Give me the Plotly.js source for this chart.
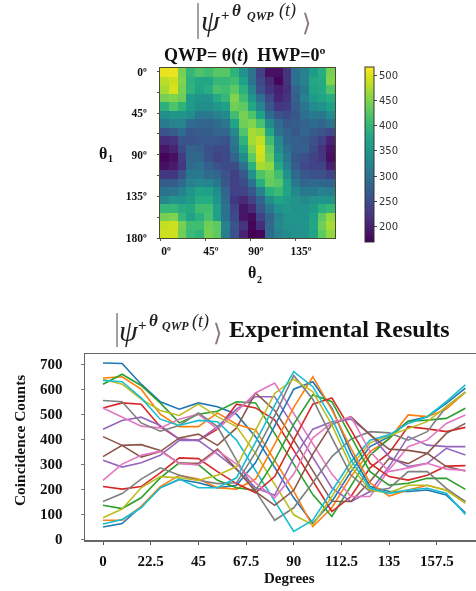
<!DOCTYPE html>
<html><head><meta charset="utf-8">
<script src="https://cdn.plot.ly/plotly-3.0.1.min.js"></script>
<style>html,body{margin:0;padding:0;background:#fff}#c{width:476px;height:591px;filter:blur(0.45px)}</style>
</head><body><div id="c"></div>
<script>
const heatRows = [
[505,505,445,400,420,410,425,425,395,345,300,235,185,185,220,300,320,360,385,445],
[480,490,450,390,375,375,400,400,410,365,300,245,210,175,220,300,320,375,380,450],
[470,495,445,395,370,385,415,410,430,390,325,255,220,200,215,280,310,370,380,420],
[445,450,440,360,345,345,380,400,450,410,350,295,245,205,220,275,320,360,370,385],
[390,420,395,360,340,340,350,365,440,430,375,325,265,225,230,270,305,335,345,365],
[340,350,350,340,310,310,320,335,410,445,420,365,290,260,250,265,295,310,310,335],
[310,320,325,290,285,280,290,305,370,440,450,415,340,290,265,270,280,290,285,300],
[260,270,290,265,270,270,280,285,330,420,470,460,375,300,280,265,280,270,260,245],
[215,220,260,260,265,265,265,260,310,395,470,485,410,330,285,275,270,255,235,205],
[190,205,250,280,275,255,250,250,300,370,455,495,430,340,300,275,275,250,220,190],
[175,185,230,285,285,260,240,245,280,340,430,490,440,360,310,265,255,240,225,185],
[185,195,225,290,300,275,260,250,250,300,390,470,460,380,320,270,245,240,240,200],
[225,225,260,310,310,290,285,260,235,265,345,420,440,410,345,290,265,255,255,240],
[270,270,290,320,330,325,310,265,235,250,300,385,435,425,370,310,285,290,285,280],
[300,305,320,350,370,365,340,280,235,240,265,320,390,405,370,330,310,310,320,315],
[330,350,345,360,385,385,350,290,225,210,240,280,340,370,360,345,330,345,350,350],
[400,400,385,380,410,410,365,300,240,190,210,265,310,345,355,345,345,360,390,400],
[445,450,400,370,390,415,365,300,250,190,180,240,280,325,345,350,345,370,430,460],
[485,490,445,410,410,440,430,320,260,220,175,215,285,330,345,345,350,375,440,470],
[490,490,440,405,395,445,430,315,255,205,170,175,290,320,335,345,345,370,430,460]
];
const degrees = [0,9,18,27,36,45,54,63,72,81,90,99,108,117,126,135,144,153,162,171];
const blueA   = [705,703,620,550,520,545,530,500,409,287,165,63,150,270,370,410,472,490,543,604];
const orangeA = [645,650,600,500,450,450,505,460,437,314,192,50,125,250,350,400,497,490,520,588];
const greenA  = [620,660,615,545,465,500,512,550,545,423,301,178,90,215,335,403,472,476,483,524];
const redA    = [525,545,540,450,400,395,440,540,525,477,355,233,110,170,285,345,450,441,430,447];
const purpleA = [440,475,488,455,400,395,450,520,570,570,450,328,205,150,190,290,410,376,370,370];
const brownA  = [410,375,328,350,405,420,375,445,585,515,396,273,151,150,230,323,302,343,423,463];
const pinkA   = [525,490,452,445,480,500,440,510,585,625,505,382,260,170,170,277,370,397,463,497];
const grayA   = [555,550,465,432,455,505,450,315,192,75,125,225,330,400,430,425,396,430,530,588];
const oliveA  = [640,620,560,515,495,540,490,450,342,219,97,56,170,290,385,415,443,470,530,588];
const cyanA   = [635,630,565,480,455,475,470,396,274,152,30,75,190,310,396,417,463,490,550,617];
const blueB   = [48,62,130,205,238,225,205,215,306,453,600,630,524,345,210,190,190,196,176,105];
const orangeB = [75,75,130,210,255,240,205,200,240,380,527,650,517,363,225,172,196,215,195,150];
const greenB  = [135,122,165,245,305,298,235,205,195,315,460,578,550,410,270,216,223,243,243,199];
const redB    = [210,200,210,265,325,322,270,222,185,250,397,540,565,437,303,250,236,255,292,294];
const purpleB = [315,288,305,335,395,395,340,280,205,175,325,440,470,480,420,330,290,303,363,336];
const brownB  = [330,375,378,355,303,303,360,280,190,135,195,340,460,490,417,360,355,343,290,272];
const pinkB   = [235,300,335,352,303,297,355,300,225,165,260,405,465,490,350,270,285,303,280,275];
const grayB   = [150,182,240,285,255,235,222,225,347,494,655,560,405,256,190,203,270,270,203,150];
const oliveB  = [85,120,205,250,245,235,255,290,436,583,640,590,457,290,195,185,215,215,195,143];
const cyanB   = [60,78,125,205,240,205,205,245,388,535,670,610,483,316,203,183,196,203,183,98];
const seriesList = [blueA,orangeA,greenA,redA,purpleA,brownA,pinkA,grayA,oliveA,cyanA,blueB,orangeB,greenB,redB,purpleB,brownB,pinkB,grayB,oliveB,cyanB];
const heatXTicks = [0,45,90,135], heatXLabels = ['0º','45º','90º','135º'];
const heatYTicks = [0,45,90,135,180], heatYLabels = ['0º','45º','90º','135º','180º'];
const heatYMinor = [22.5,67.5,112.5,157.5];
const lineXTicks = [0,22.5,45,67.5,90,112.5,135,157.5];
const lineXLabels = ['0','22.5','45','67.5','90','112.5','135','157.5'];
const colours = ['#1f77b4','#ff7f0e','#2ca02c','#d62728','#9467bd','#8c564b','#e377c2','#7f7f7f','#bcbd22','#17becf'];

const W=476,H=591, SERIF='"Liberation Serif",serif';
const txt=(text,x,y,size,o={})=>({text,xref:'paper',yref:'paper',x:x/W,y:1-y/H,xanchor:o.a||'center',yanchor:'middle',showarrow:false,textangle:o.r||0,
  font:{family:o.f||SERIF,size,color:o.c||'#111'}});
function ket(bx,by,s){return [
  txt('<i>ψ</i>',bx+12*s,by+17,30,{c:'#222'}),
  txt('<b>+</b>',bx+25*s,by+12,15,{c:'#222'}),
  txt('<b><i>θ</i></b>',bx+36*s,by+7,17,{c:'#222'}),
  txt('<b><i>QWP</i></b>',bx+58*s,by+13,12,{c:'#222'}),
  txt('<i>(t)</i>',bx+83*s,by+8,18,{c:'#222'}),
  txt('⟩',bx+100*s,by+20,24,{c:'#8a7a78',f:'"DejaVu Sans"'})
];}
const bar=(x,y0,y1)=>({type:'line',xref:'paper',yref:'paper',x0:x/W,x1:x/W,y0:1-y0/H,y1:1-y1/H,line:{color:'#8d7f7d',width:1.5}});

const traces=[{type:'heatmap',z:heatRows,x0:4.375,dx:8.75,y0:0.8,dy:9.19,colorscale:'Viridis',zmin:170,zmax:516,xaxis:'x',yaxis:'y',
  colorbar:{x:365/W,xanchor:'left',y:1-67/H,yanchor:'top',lenmode:'pixels',len:175,thicknessmode:'pixels',thickness:9,xpad:0,ypad:0,
    outlinewidth:1,outlinecolor:'#333',tickvals:[200,250,300,350,400,450,500],ticks:'outside',ticklen:3,tickcolor:'#444',
    tickfont:{family:'"DejaVu Sans"',size:10,color:'#333'}}}];
seriesList.forEach((v,i)=>traces.push({type:'scatter',mode:'lines',x:degrees,y:v,xaxis:'x2',yaxis:'y2',showlegend:false,line:{color:colours[i%10],width:1.6}}));

const layout={width:W,height:H,margin:{l:0,r:0,t:0,b:0},paper_bgcolor:'#fff',plot_bgcolor:'#fff',showlegend:false,colorway:colours,
 xaxis:{domain:[160/W,335/W],range:[0,175],tickvals:heatXTicks,ticktext:heatXLabels,ticks:'outside',ticklen:2,tickcolor:'#555',showgrid:false,zeroline:false,ticklabelshift:6,
   showline:true,mirror:true,linecolor:'#4a4a30',linewidth:1,tickfont:{family:SERIF,size:11.5,color:'#111',weight:'bold'}},
 yaxis:{domain:[1-238/H,1-68/H],range:[180,-3.8],tickvals:heatYTicks,ticktext:heatYLabels,ticks:'outside',ticklen:2,tickcolor:'#555',showgrid:false,zeroline:false,ticklabelstandoff:8,
   minor:{tickvals:heatYMinor,ticks:'outside',ticklen:2,tickcolor:'#555',showgrid:false},
   showline:true,mirror:true,linecolor:'#4a4a30',linewidth:1,tickfont:{family:SERIF,size:11.5,color:'#111',weight:'bold'}},
 xaxis2:{anchor:'y2',domain:[85/W,1],range:[-8.5,176],tickvals:lineXTicks,ticktext:lineXLabels,ticks:'outside',ticklen:3,tickcolor:'#555',showgrid:false,zeroline:false,ticklabelstandoff:3,
   showline:true,mirror:true,linecolor:'#666',linewidth:1.5,tickfont:{family:SERIF,size:15,color:'#111',weight:'bold'}},
 yaxis2:{anchor:'x2',domain:[1-540/H,1-354/H],range:[-4,741],tickvals:[0,100,200,300,400,500,600,700],ticks:'outside',ticklen:3,tickcolor:'#777',showgrid:false,zeroline:false,ticklabelstandoff:15,
   showline:true,linecolor:'#666',linewidth:1.5,tickfont:{family:SERIF,size:15,color:'#111',weight:'bold'}},
 shapes:[bar(198,3,39),bar(117,313,347)],
 annotations:[...ket(198,3,1.08),...ket(117,313,1),
  txt('<b>QWP= θ(<i>t</i>)  HWP=0º</b>',245,56,18),
  txt('<b>θ</b>',103,153,16), txt('<b>1</b>',110,158,10),
  txt('<b>θ</b>',252,273,16), txt('<b>2</b>',259,279,10),
  txt('<b>Experimental Results</b>',227,329,24,{a:'left'}),
  txt('<b>Coincidence Counts</b>',19,441,15.4,{r:-90}),
  txt('<b>Degrees</b>',289,578,15)
 ]};
Plotly.newPlot('c',traces,layout,{displayModeBar:false,staticPlot:true});
</script></body></html>
